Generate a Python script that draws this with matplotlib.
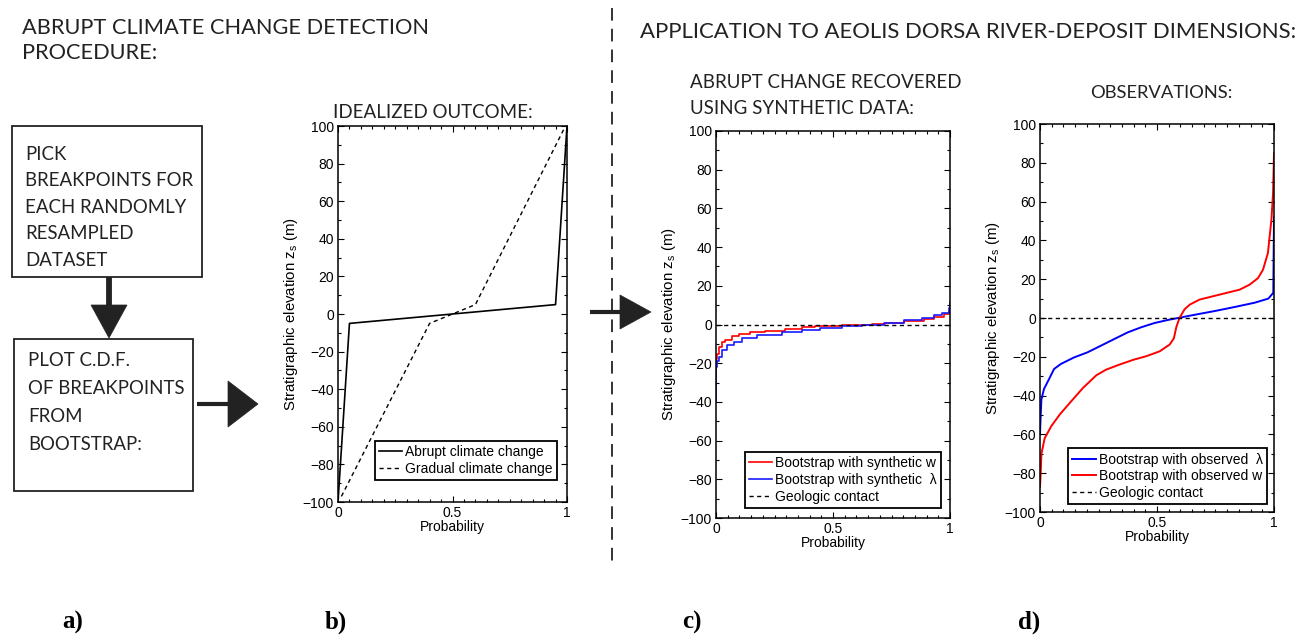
import matplotlib
matplotlib.use("Agg")
import matplotlib.pyplot as plt
from matplotlib.patches import Rectangle, Polygon
from matplotlib.lines import Line2D
from matplotlib.ticker import MultipleLocator, FixedLocator, FixedFormatter

plt.rcParams['font.family'] = ['Liberation Sans', 'DejaVu Sans']

# ---------------- data ----------------
# panel b: idealized outcome (probability, elevation)
abrupt_prob = [0.0, 0.05, 0.95, 1.0]
abrupt_elev = [-100, -5, 5, 100]
gradual_prob = [0.015, 0.40, 0.60, 0.985]
gradual_elev = [-97, -5, 5, 98]

# panel c: synthetic data bootstrap CDFs
c_red_prob = [0.0, 0.0, 0.004, 0.011, 0.026, 0.040, 0.068, 0.097, 0.147, 0.211,
              0.296, 0.368, 0.425, 0.538, 0.667, 0.724, 0.802, 0.887, 0.930, 0.973, 0.994, 1.0]
c_red_elev = [-24, -18, -15, -11.5, -9, -7.8, -6, -5, -4, -3.3,
              -2.2, -1.5, -0.9, -0.2, 0.5, 1, 1.9, 3.1, 4, 5.3, 6.5, 8.3]
c_blue_prob = [0.0, 0.0, 0.004, 0.011, 0.026, 0.047, 0.0755, 0.111, 0.175, 0.282,
               0.368, 0.446, 0.538, 0.624, 0.716, 0.802, 0.880, 0.930, 0.966, 0.994, 1.0]
c_blue_elev = [-40, -22, -19, -16.7, -13.3, -10.7, -9, -7.2, -5.5, -3.8,
               -2.6, -1.6, -0.7, 0, 1, 2.2, 3.6, 4.8, 6, 8.3, 11.7]

# panel d: observations bootstrap CDFs
d_blue_prob = [0.0, 0.003, 0.006, 0.017, 0.039, 0.060, 0.089, 0.146, 0.203, 0.260,
               0.318, 0.375, 0.432, 0.489, 0.547, 0.603, 0.632, 0.747, 0.833, 0.918,
               0.976, 0.997, 1.0]
d_blue_elev = [-60, -50, -42, -36.6, -31.4, -26.3, -23.7, -20.3, -17.7, -14.3,
               -10.8, -7.4, -4.8, -2.6, -1.0, 0.3, 1, 3.6, 5.7, 7.9,
               10, 13, 52]
d_red_prob = [0.0, 0.003, 0.006, 0.020, 0.048, 0.084, 0.127, 0.184, 0.241, 0.283,
              0.340, 0.400, 0.454, 0.511, 0.554, 0.572, 0.583, 0.596, 0.618, 0.640,
              0.682, 0.739, 0.796, 0.853, 0.896, 0.932, 0.953, 0.974, 0.989, 0.996, 1.0]
d_red_elev = [-87, -80, -70, -62, -55.8, -49.8, -43.8, -36, -29.5, -26.6,
              -24, -21.5, -19.7, -17.2, -13.7, -10.5, -4.5, 0, 4.5, 6.9,
              9.5, 11.2, 12.9, 14.6, 17.2, 20.6, 24.9, 33.5, 50.7, 64.4, 85]

contact_elev = 0

xtick_vals = [0, 0.5, 1]
xtick_labels = ['0', '0.5', '1']
ytick_vals = [-100, -80, -60, -40, -20, 0, 20, 40, 60, 80, 100]

W, H = 1304, 640
fig = plt.figure(figsize=(W / 100, H / 100), dpi=100)


def fx(x):
    return x / W


def fy(y):
    return 1 - y / H


def ax_px(l, t, r, b):
    return fig.add_axes([fx(l), fy(b), (r - l) / W, (b - t) / H])


def style(ax):
    ax.set_xlim(0, 1)
    ax.set_ylim(-100, 100)
    ax.xaxis.set_major_locator(FixedLocator(xtick_vals))
    ax.xaxis.set_major_formatter(FixedFormatter(xtick_labels))
    ax.yaxis.set_major_locator(FixedLocator(ytick_vals))
    ax.xaxis.set_minor_locator(MultipleLocator(0.05))
    ax.yaxis.set_minor_locator(MultipleLocator(10))
    ax.tick_params(which='both', direction='in', top=True, right=True,
                   labelsize=10, width=0.8)
    ax.tick_params(which='major', length=4, pad=3)
    ax.tick_params(which='minor', length=2)
    for s in ax.spines.values():
        s.set_linewidth(1.1)
    ax.set_xlabel('Probability', fontsize=10, labelpad=0)
    ax.set_ylabel(r'Stratigraphic elevation z$_\mathregular{s}$ (m)', fontsize=10.8, labelpad=2)


def legend(ax, x, y):
    leg = ax.legend(loc='lower right', bbox_to_anchor=(x, y), borderaxespad=0,
                    fontsize=10, frameon=True, fancybox=False, framealpha=1,
                    handlelength=1.7, handletextpad=0.2, labelspacing=0.2,
                    borderpad=0.3)
    leg.get_frame().set_edgecolor('black')
    leg.get_frame().set_linewidth(1.3)
    return leg


# panel b
axb = ax_px(338, 126, 567, 502)
axb.plot(abrupt_prob, abrupt_elev, color='black', lw=1.2, label='Abrupt climate change')
axb.plot(gradual_prob, gradual_elev, color='black', lw=1.0, ls=(0, (3, 2.5)),
         label='Gradual climate change')
style(axb)
legend(axb, 0.956, 0.0585)

# panel c
axc = ax_px(716, 131, 950, 518)
axc.plot(c_red_prob, c_red_elev, color='#ff0000', lw=1.2, drawstyle='steps-post',
         label='Bootstrap with synthetic w')
axc.plot(c_blue_prob, c_blue_elev, color='#1a1aff', lw=1.2, drawstyle='steps-post',
         label='Bootstrap with synthetic  \u03bb')
axc.axhline(contact_elev, color='black', lw=1.0, ls=(0, (3, 2.5)), label='Geologic contact')
style(axc)
legend(axc, 0.962, 0.026)

# panel d
axd = ax_px(1040, 124, 1274, 512)
axd.plot(d_blue_prob, d_blue_elev, color='#0000ff', lw=1.4,
         label='Bootstrap with observed  \u03bb')
axd.plot(d_red_prob, d_red_elev, color='#ff0000', lw=1.4,
         label='Bootstrap with observed w')
axd.axhline(contact_elev, color='black', lw=1.0, ls=(0, (3, 2.5)), label='Geologic contact')
style(axd)
legend(axd, 0.97, 0.02)

# ---------- headings ----------
HF = 'Lato'
TC = '#222222'
fig.text(fx(22), fy(27.5), 'ABRUPT CLIMATE CHANGE DETECTION', fontsize=15.7, family=HF,
         ha='left', va='center', color=TC)
fig.text(fx(22), fy(53), 'PROCEDURE:', fontsize=15.7, family=HF,
         ha='left', va='center', color=TC)
fig.text(fx(640), fy(32), 'APPLICATION TO AEOLIS DORSA RIVER-DEPOSIT DIMENSIONS:', fontsize=15.9,
         family=HF, ha='left', va='center', color=TC)
fig.text(fx(433), fy(112), 'IDEALIZED OUTCOME:', fontsize=13.5, family=HF,
         ha='center', va='center', color=TC)
fig.text(fx(690), fy(83), 'ABRUPT CHANGE RECOVERED', fontsize=13.5, family=HF,
         ha='left', va='center', color=TC)
fig.text(fx(690), fy(108), 'USING SYNTHETIC DATA:', fontsize=13.5, family=HF,
         ha='left', va='center', color=TC)
fig.text(fx(1161), fy(93), 'OBSERVATIONS:', fontsize=13.2, family=HF,
         ha='center', va='center', color=TC)

# ---------- flowchart ----------
def box(l, t, r, b):
    fig.patches.append(Rectangle((fx(l), fy(b)), (r - l) / W, (b - t) / H,
                                 transform=fig.transFigure, fill=False,
                                 edgecolor=TC, lw=1.3))


box(12, 126, 202, 277)
box(14, 339, 193, 491)
box1_lines = ['PICK', 'BREAKPOINTS FOR', 'EACH RANDOMLY', 'RESAMPLED', 'DATASET']
box2_lines = ['PLOT C.D.F.', 'OF BREAKPOINTS', 'FROM', 'BOOTSTRAP:']
for i, s in enumerate(box1_lines):
    fig.text(fx(25), fy(154 + i * 26.6), s, fontsize=13.4, family=HF,
             ha='left', va='center', color=TC)
for i, s in enumerate(box2_lines):
    fig.text(fx(28), fy(361 + i * 27.7), s, fontsize=13.4, family=HF,
             ha='left', va='center', color=TC)


def shaft(x0, y0, x1, y1, lw=3.2):
    fig.lines.append(Line2D([fx(x0), fx(x1)], [fy(y0), fy(y1)], transform=fig.transFigure,
                            color=TC, lw=lw, solid_capstyle='butt'))


def head(pts):
    fig.patches.append(Polygon([(fx(x), fy(y)) for x, y in pts], closed=True,
                               transform=fig.transFigure, facecolor=TC,
                               edgecolor=TC, lw=0.5))


shaft(108.5, 277, 108.5, 307, lw=4.2)
head([(91, 305), (127, 305), (109, 338)])
shaft(197, 404, 230, 404, lw=3.0)
head([(228, 381), (228, 427), (258, 404)])
shaft(590, 312, 622, 312, lw=3.0)
head([(620, 295), (620, 329), (651, 312)])

# vertical dashed separator
fig.lines.append(Line2D([fx(611.5), fx(611.5)], [fy(8), fy(565)], transform=fig.transFigure,
                        color=TC, lw=1.3, ls=(0, (7, 4.5))))

# panel labels
for x, s in [(73, 'a)'), (336, 'b)'), (692, 'c)'), (1029, 'd)')]:
    fig.text(fx(x), fy(622), s, fontsize=18, family='Liberation Serif', weight='bold',
             ha='center', va='center')

fig.savefig('out.png', dpi=100)
